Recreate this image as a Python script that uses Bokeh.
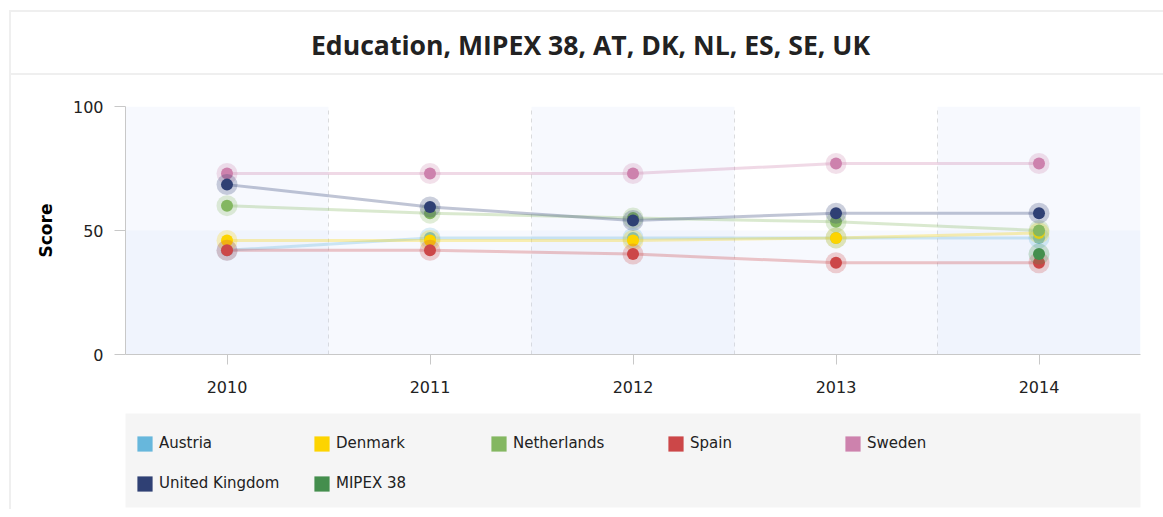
import numpy as np
from bokeh.plotting import figure
from bokeh.models import (Range1d, FixedTicker, BoxAnnotation, Label,
                          Legend, LegendItem, ColumnDataSource)
from bokeh.layouts import column
from bokeh.embed import file_html
from bokeh.resources import INLINE

# ---------------- data ----------------
title_text = "Education, MIPEX 38, AT, DK, NL, ES, SE, UK"
years = [2010, 2011, 2012, 2013, 2014]
series_names = ["Austria", "Denmark", "Netherlands", "Spain", "Sweden",
                "United Kingdom", "MIPEX 38"]
austria = [42, 47, 47, 47, 47]
denmark = [46, 46, 46, 47, 49]
netherlands = [60, 57, 55, 53.5, 50]
spain = [42, 42, 40.5, 37, 37]
sweden = [73, 73, 73, 77, 77]
united_kingdom = [68.5, 59.5, 54, 57, 57]
mipex_38 = [None, None, None, None, 40.5]
series_values = [austria, denmark, netherlands, spain, sweden, united_kingdom, mipex_38]
colors = ["#67b7dc", "#fdd400", "#84b761", "#cc4748", "#cd82ad", "#2f4074", "#448e4d"]
y_ticks = [0, 50, 100]
y_label = "Score"

W = 1152
BL, BR = 114, 23
FONT = "DejaVu Sans"
TXT = "#222222"
BORDER = "2px solid #efefef"

# ---------------- title strip ----------------
ft = figure(width=W, height=63, output_backend="svg", toolbar_location=None,
            x_range=Range1d(0, 1), y_range=Range1d(0, 1),
            min_border_left=BL, min_border_right=BR, min_border_top=0, min_border_bottom=0,
            x_axis_location=None, y_axis_location=None, outline_line_color=None,
            styles={"border-bottom": BORDER})
ft.xgrid.visible = False
ft.ygrid.visible = False
ft.add_layout(Label(x=465, y=31, x_units="screen", y_units="screen", text=title_text,
                    text_align="center", text_baseline="middle",
                    text_font="Open Sans", text_font_style="bold", text_font_size="26.6px",
                    text_color=TXT))

# ---------------- main chart ----------------
p = figure(width=W, height=333, output_backend="svg", toolbar_location=None,
           x_range=Range1d(years[0] - 0.5, years[-1] + 0.5),
           y_range=Range1d(y_ticks[0], y_ticks[-1]),
           min_border_left=BL, min_border_right=BR, min_border_top=31, min_border_bottom=54,
           outline_line_color=None)

for i, yr in enumerate(years):
    if i % 2 == 0:
        p.add_layout(BoxAnnotation(left=yr - 0.5, right=yr + 0.5, fill_color="#c8d7f5",
                                   fill_alpha=0.15, line_color=None, level="underlay"))
p.add_layout(BoxAnnotation(bottom=y_ticks[0], top=y_ticks[1], fill_color="#c8d7f5",
                           fill_alpha=0.15, line_color=None, level="underlay"))

p.xaxis.ticker = FixedTicker(ticks=years)
p.yaxis.ticker = FixedTicker(ticks=y_ticks)
p.xgrid.ticker = FixedTicker(ticks=[y + 0.5 for y in years])
p.xgrid.grid_line_color = "#dcdcdc"
p.xgrid.grid_line_dash = "4 4"
p.ygrid.grid_line_color = None

p.axis.major_tick_in = 0
p.xaxis.major_tick_out = 10
p.yaxis.major_tick_out = 11
p.axis.minor_tick_line_color = None
p.axis.axis_line_color = "#c8c8c8"
p.axis.major_tick_line_color = "#c8c8c8"
p.axis.major_label_text_font = FONT
p.axis.major_label_text_font_size = "16px"
p.axis.major_label_text_color = TXT
p.xaxis.major_label_standoff = 16
p.yaxis.major_label_standoff = 11
p.yaxis.axis_label = y_label
p.yaxis.axis_label_text_font = FONT
p.yaxis.axis_label_text_font_style = "bold"
p.yaxis.axis_label_text_font_size = "17px"
p.yaxis.axis_label_text_color = "#000000"
p.yaxis.axis_label_standoff = 14

for name, vals, col in zip(series_names, series_values, colors):
    ys = [np.nan if v is None else v for v in vals]
    src = ColumnDataSource(dict(x=years, y=ys))
    p.line("x", "y", source=src, line_color=col, line_width=3, line_alpha=0.3)
    p.scatter("x", "y", source=src, size=21, fill_color=col, fill_alpha=0.25, line_color=None)
    p.scatter("x", "y", source=src, size=12, fill_color=col, line_color=None)

# ---------------- legend strip ----------------
pl = figure(width=W, height=101, output_backend="svg", toolbar_location=None,
            x_range=Range1d(0, 1), y_range=Range1d(0, 1),
            min_border_left=BL, min_border_right=BR, min_border_top=5, min_border_bottom=2,
            x_axis_location=None, y_axis_location=None, outline_line_color=None,
            background_fill_color="#f5f5f5")
pl.xgrid.visible = False
pl.ygrid.visible = False
items = []
for name, col in zip(series_names, colors):
    r = pl.quad(left=[np.nan], right=[np.nan], top=[np.nan], bottom=[np.nan],
                fill_color=col, line_color=None)
    items.append(LegendItem(label=name, renderers=[r]))
leg = Legend(items=items, ncols=5, orientation="horizontal", location=(10, 14),
             margin=0, padding=0, glyph_width=19, glyph_height=19, label_standoff=5,
             label_width=133, label_height=20, spacing=20,
             label_text_font=FONT, label_text_font_size="15px", label_text_color=TXT,
             background_fill_alpha=0, border_line_color=None)
pl.add_layout(leg)

root = column(ft, p, pl, spacing=0, margin=(10, 0, 0, 9),
              styles={"border-left": BORDER, "border-top": BORDER})

with open("out.html", "w") as f:
    f.write(file_html(root, INLINE))
